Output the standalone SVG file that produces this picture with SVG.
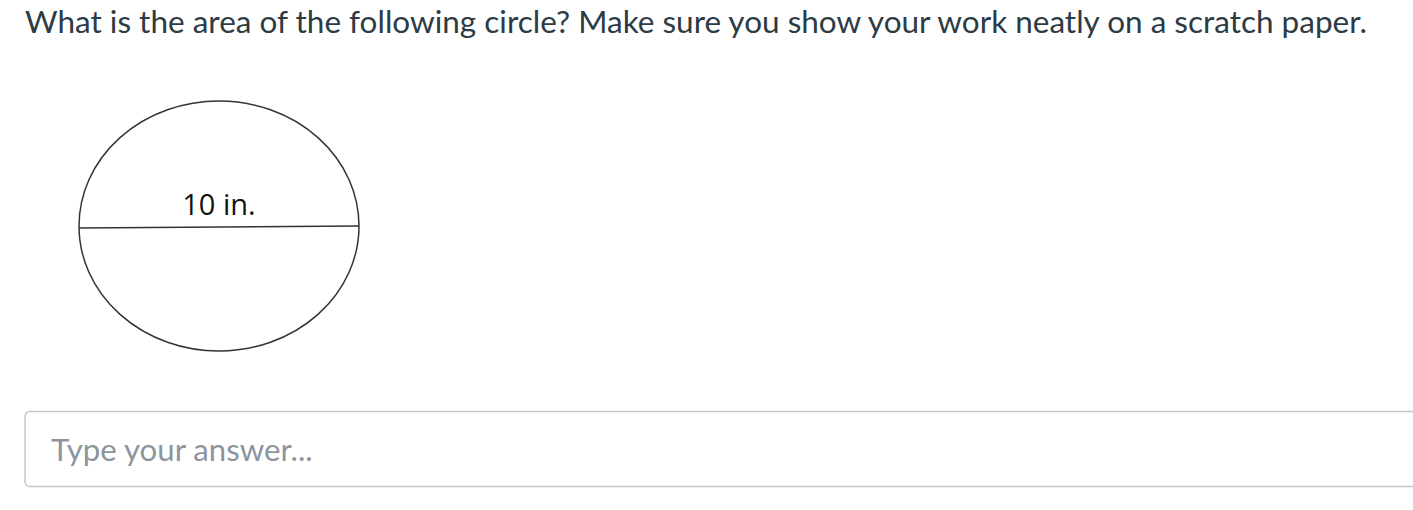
<svg xmlns="http://www.w3.org/2000/svg" width="1413" height="510" viewBox="0 0 1413 510">
<style>
.q{font-family:Lato,"Open Sans",sans-serif;font-size:31.5px;fill:#2d3b45}
.lbl{font-family:"Open Sans",Lato,sans-serif;font-size:29px;fill:#111}
.ph{font-family:Lato,sans-serif;font-size:31.2px;fill:#8b959e}
.shape{fill:none;stroke:#333;stroke-width:1.5}
</style>
<rect width="1413" height="510" fill="#fff"/>
<text class="q" x="25" y="33">What is the area of the following circle? Make sure you show your work neatly on a scratch paper.</text>
<g id="circle">
<ellipse class="shape" cx="219" cy="226" rx="140" ry="125"/>
<line class="shape" x1="79" y1="228" x2="359" y2="226"/>
<text class="lbl" x="219" y="215" text-anchor="middle">10 in.</text>
</g>
<g id="answer">
<rect x="25" y="411.5" width="1400" height="75" rx="5" fill="#fff" stroke="#c8c8c8" stroke-width="1.5"/>
<text class="ph" x="51" y="461">Type your answer...</text>
</g>
</svg>
